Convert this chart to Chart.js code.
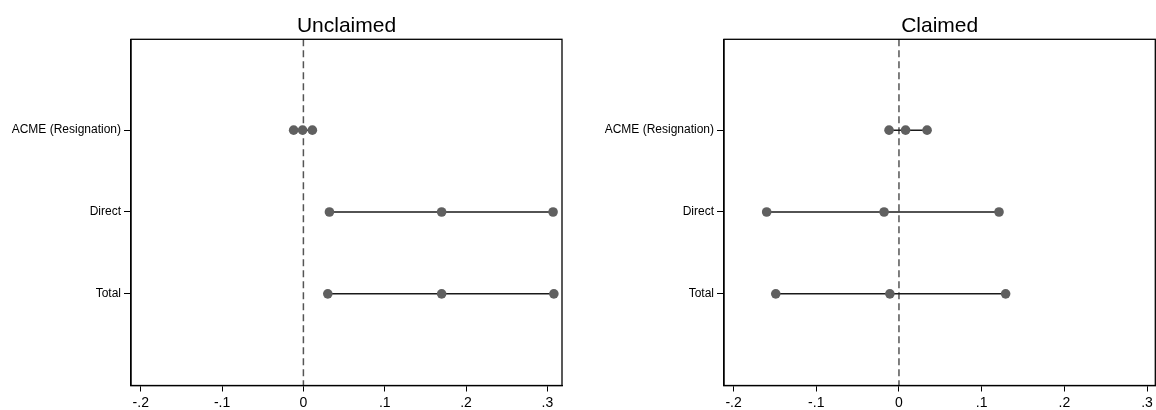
<!DOCTYPE html>
<html>
<head>
<meta charset="utf-8">
<script src="https://cdn.jsdelivr.net/npm/chart.js@4/dist/chart.umd.min.js"></script>
<style>
  html, body { margin: 0; padding: 0; background: #ffffff; }
  #wrap { position: relative; width: 1156px; height: 410px; overflow: hidden; }
  .panel { position: absolute; top: 0; width: 578px; height: 410px; }
  #p1 { left: 0; }
  #p2 { left: 578px; }
</style>
</head>
<body>
<div id="wrap">
  <div class="panel" id="p1"><canvas id="c1" width="578" height="410"></canvas></div>
  <div class="panel" id="p2"><canvas id="c2" width="578" height="410"></canvas></div>
</div>
<script>
// ---- data ----
const categories = ['ACME (Resignation)', 'Direct', 'Total'];
const panelTitles = ['Unclaimed', 'Claimed'];

const unclaimedLow  = [-0.012, 0.032, 0.030];
const unclaimedEst  = [-0.001, 0.170, 0.170];
const unclaimedHigh = [ 0.011, 0.307, 0.308];

const claimedLow  = [-0.012, -0.160, -0.149];
const claimedEst  = [ 0.008, -0.018, -0.011];
const claimedHigh = [ 0.034,  0.121,  0.129];

const xTicks = [-0.2, -0.1, 0, 0.1, 0.2, 0.3];
const xTickLabels = ['-.2', '-.1', '0', '.1', '.2', '.3'];
const refValue = 0;

// ---- rendering ----
Chart.defaults.font.family = "'Liberation Sans', Arial, Helvetica, sans-serif";
Chart.defaults.color = '#000';

function makeDatasets(low, est, high) {
  return categories.map((c, i) => ({
    label: c,
    data: [
      { x: low[i], y: i + 1 },
      { x: est[i], y: i + 1 },
      { x: high[i], y: i + 1 }
    ],
    showLine: true,
    borderColor: '#1a1a1a',
    borderWidth: 1.5,
    pointRadius: 4.8,
    pointBackgroundColor: '#606060',
    pointBorderWidth: 0,
    pointBorderColor: '#606060'
  }));
}

const framePlugin = {
  id: 'frame',
  beforeDatasetsDraw(chart) {
    const { ctx, chartArea } = chart;
    const xs = chart.scales.x;
    const px = xs.getPixelForValue(refValue);
    ctx.save();
    ctx.strokeStyle = '#555555';
    ctx.lineWidth = 1.5;
    ctx.setLineDash([7, 4]);
    ctx.beginPath();
    ctx.moveTo(px, chartArea.top);
    ctx.lineTo(px, chartArea.bottom);
    ctx.stroke();
    ctx.restore();
  },
  afterDraw(chart) {
    const { ctx, chartArea } = chart;
    ctx.save();
    ctx.strokeStyle = '#000';
    ctx.lineWidth = 1.3;
    ctx.strokeRect(chartArea.left, chartArea.top, chartArea.right - chartArea.left, chartArea.bottom - chartArea.top);
    const t = chart.options.plugins.panelTitle.text;
    ctx.fillStyle = '#000';
    ctx.font = "21px 'Liberation Sans', Arial, Helvetica, sans-serif";
    ctx.textAlign = 'center';
    ctx.textBaseline = 'alphabetic';
    ctx.fillText(t, (chartArea.left + chartArea.right) / 2, 31.5);
    ctx.restore();
  }
};

function makeChart(canvasId, title, low, est, high, xmin, xmax, axisWidth, padRight) {
  return new Chart(document.getElementById(canvasId), {
    type: 'scatter',
    data: { datasets: makeDatasets(low, est, high) },
    options: {
      responsive: false,
      animation: false,
      layout: { autoPadding: false, padding: { left: 0, right: padRight, top: 39.3, bottom: 0 } },
      plugins: {
        legend: { display: false },
        tooltip: { enabled: false },
        title: { display: false },
        panelTitle: { text: title }
      },
      scales: {
        x: {
          type: 'linear',
          min: xmin,
          max: xmax,
          afterBuildTicks: (s) => { s.ticks = xTicks.map(v => ({ value: v })); },
          afterFit: (s) => { s.height = 24.5; s.paddingLeft = 0; s.paddingRight = 0; },
          ticks: {
            autoSkip: false,
            maxRotation: 0,
            padding: 3,
            font: { size: 14 },
            color: '#000',
            callback: (v, i) => xTickLabels[i]
          },
          grid: { drawOnChartArea: false, drawTicks: true, tickLength: 6, color: '#000', lineWidth: 1 },
          border: { display: true, color: '#000', width: 1.3 }
        },
        y: {
          type: 'linear',
          reverse: true,
          min: -0.11,
          max: 4.12,
          afterBuildTicks: (s) => { s.ticks = categories.map((c, i) => ({ value: i + 1 })); },
          afterFit: (s) => { s.width = axisWidth; s.paddingTop = 0; s.paddingBottom = 0; },
          ticks: {
            autoSkip: false,
            padding: 3,
            font: { size: 12 },
            color: '#000',
            callback: (v, i) => categories[i]
          },
          grid: { drawOnChartArea: false, drawTicks: true, tickLength: 7, color: '#000', lineWidth: 1 },
          border: { display: true, color: '#000', width: 1.3 }
        }
      }
    },
    plugins: [framePlugin]
  });
}

makeChart('c1', panelTitles[0], unclaimedLow, unclaimedEst, unclaimedHigh, -0.212, 0.318, 131, 16);
makeChart('c2', panelTitles[1], claimedLow, claimedEst, claimedHigh, -0.2116, 0.310, 146, 0.7);
</script>
</body>
</html>
